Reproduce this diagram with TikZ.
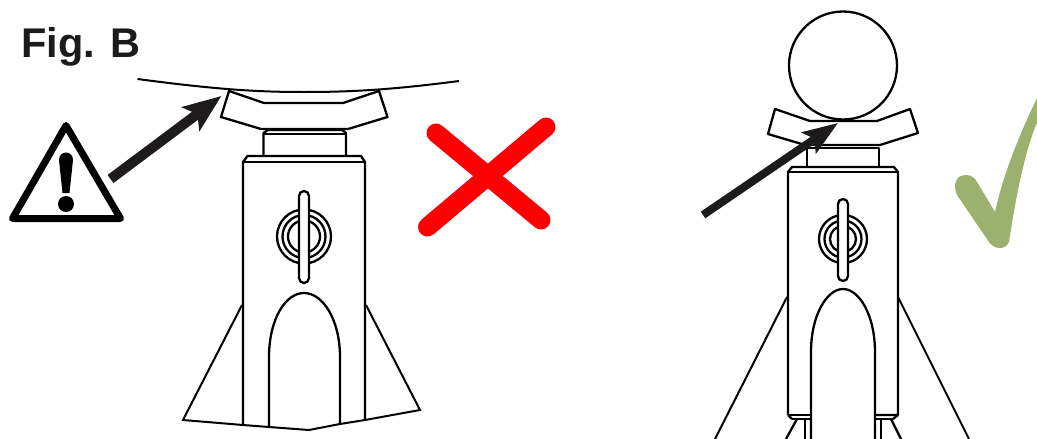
\documentclass[tikz,border=0pt]{standalone}
\usepackage{fontspec}
\setmainfont{Liberation Sans}
\usetikzlibrary{arrows.meta}
\definecolor{checkgreen}{HTML}{9BB26F}
\definecolor{inkblack}{HTML}{1C1A1B}
\newcommand{\ringpin}[5]{% centre x, centre y, outer radius, pin top, pin bottom
  \draw[jackline] (#1,#2) circle (#3);
  \draw[jackline] (#1,#2) circle ({#3-5.5});
  \draw[jackline] (#1,#2) circle ({#3-11});
  \draw[jackline, fill=white, rounded corners=5pt] ({#1-5},#5) -- ({#1-5},#4) -- ({#1+5},#4) -- ({#1+5},#5) -- cycle;
}
\tikzset{
  jackline/.style={
    draw=black,
    line width=2.3pt,
    line join=round
  },
  thinline/.style={
    draw=black,
    line width=2pt
  },
  pointer/.style={
    -{Stealth[length=38pt,width=29pt,inset=8pt]},
    line width=10pt,
    draw=inkblack
  },
  smallpointer/.style={
    pointer,
    -{Stealth[length=35pt,width=25pt,inset=7pt]},
    line width=8pt
  },
  title/.style={
    font=\fontsize{41.5}{42}\selectfont\bfseries,
    text=inkblack,
    inner sep=0pt,
    anchor=base west
  }
}
\begin{document}
\begin{tikzpicture}[x=1pt,y=-1pt]
  \useasboundingbox (0,0) rectangle (1037,439);

  \node[title] (figlabel) at (21,57) {Fig. B};

  % left jack
  \draw[thinline] (137.5,79) .. controls (220,90) and (260,92) .. (304,92) .. controls (350,92) and (390,90) .. (459,81);
  \draw[jackline] (229,91) -- (264,103) -- (343,103) -- (379,91) -- (387.5,117) -- (348,129) -- (261,129) -- (221,117) -- cycle;
  \draw[jackline] (263.5,156) -- (263.5,133) -- (268,130) -- (342,130) -- (346,133) -- (346,156);
  \draw[jackline] (263.5,134) -- (346,134);
  \draw[jackline] (243,425) -- (243,162) -- (247.5,156) -- (361,156) -- (365,162) -- (365,420);
  \draw[jackline] (243,162) -- (365,162);
  \ringpin{304}{236.5}{27}{191}{283}
  \draw[jackline] (269,427) -- (269,357) .. controls (269,320) and (285,293) .. (304,293) .. controls (323,293) and (340,320) .. (340,357) -- (340,424);
  \draw[thinline] (242,305) -- (183,420) -- (243,425) -- (269,427) -- (309,430) -- (340,424) -- (365,420) -- (420,410) -- (366,305);

  % right jack
  \draw[jackline] (843,65.5) circle (54);
  \draw[jackline] (775,109) -- (810,121) -- (877,121) -- (910,109) -- (918,133) -- (880,145) -- (805,145) -- (768,134) -- cycle;
  \draw[jackline] (807,167) -- (807,148) -- (879,148) -- (879,167);
  \draw[jackline] (788,415) -- (788,172) -- (792,167) -- (894,167) -- (898,172) -- (898,415) -- (875,415);
  \draw[jackline] (788,172) -- (898,172);
  \draw[jackline] (788,415) -- (811,415);
  \ringpin{843}{239}{24}{199}{281}
  \draw[jackline] (811,439) -- (811,352) .. controls (811,315) and (827,289) .. (843,289) .. controls (859,289) and (875,315) .. (875,352) -- (875,439);
  \draw[jackline] (792,419) -- (811,419) (875,419) -- (893,419);
  \draw[jackline] (788,415) -- (792,419) (898,415) -- (893,419);
  \draw[jackline] (805,419) -- (805,439) (881,419) -- (881,439);
  \draw[jackline] (797,419) -- (786,439) (891,419) -- (901,439);
  \draw[thinline] (787,297) -- (715,439) (898,297) -- (969,439);

  % warning sign
  \draw[draw=black, line width=7pt, line join=round] (66,125.5) -- (12.5,218.5) -- (120.5,218.5) -- cycle;
  \fill[black] (59,160) .. controls (59,150) and (73,150) .. (73,160) -- (69.5,193) -- (62.5,193) -- cycle;
  \fill[black] (66,204) circle (8);

  % arrows
  \coordinate (leftstart) at (110.5,179);
  \coordinate (lefttip) at (221.4,96);
  \coordinate (rightstart) at (703,215);
  \coordinate (righttip) at (838,123);
  \draw[pointer] (leftstart) -- (lefttip);
  \draw[smallpointer] (rightstart) -- (righttip);

  % marks
  \draw[red, line width=19pt, line cap=round] (436,133) -- (541,220);
  \draw[red, line width=19pt, line cap=round] (546,127) -- (427.5,227);
  \fill[checkgreen] (955,187) .. controls (955,178) and (960,175) .. (966,175) .. controls (971,175) and (975,178) .. (977,182) -- (995,212) .. controls (1001,185) and (1012,150) .. (1037,98) -- (1037,123) .. controls (1030,138) and (1019,175) .. (1009,242) .. controls (1007,247) and (1003,248) .. (999,248) .. controls (995,248) and (991,245) .. (989,242) -- (957,195) .. controls (956,192) and (955,190) .. (955,187) -- cycle;
\end{tikzpicture}
\end{document}
